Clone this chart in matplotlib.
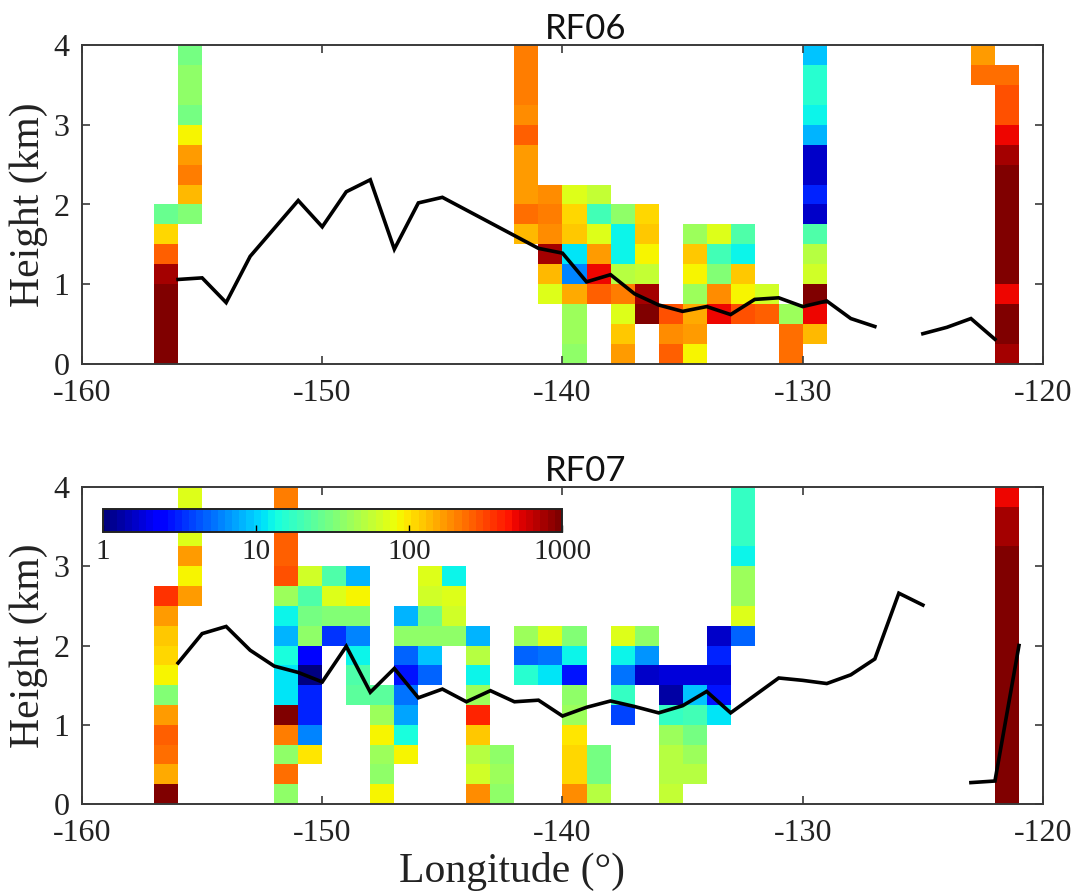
import numpy as np
import matplotlib
matplotlib.use("Agg")
import matplotlib.pyplot as plt
from matplotlib.colors import LogNorm

plt.rcParams["axes.unicode_minus"] = False

# ---------------- data ----------------
height_edges = np.arange(0, 4.001, 0.25)          # km, 16 bins
lon_edges = np.arange(-160, -119, 1)              # degrees, 40 bins

# RF06 columns: values (per 0.25 km bin) from the first filled bin upward
rf06_m157 = [1000, 1000, 1000, 920, 800, 250, 110, 26]            # start bin 0
rf06_m156 = [34, 135, 205, 165, 90, 29, 36, 36, 29]               # start bin 7
rf06_m142 = [135, 225, 165, 165, 165, 250, 185, 205, 205, 205]    # start bin 6
rf06_m141 = [74, 135, 800, 185, 205, 185]                         # start bin 3
rf06_m140 = [37, 43, 43, 150, 6.2, 10.8, 120, 110, 74]            # start bin 0
rf06_m139 = [250, 470, 165, 74, 19, 56]                           # start bin 3
rf06_m138 = [165, 120, 74, 205, 49, 12, 12, 37]                   # start bin 0
rf06_m137 = [1000, 750, 56, 84, 120, 110]                         # start bin 2
rf06_m136 = [250, 185, 280]                                       # start bin 0
rf06_m135 = [90, 165, 150, 43, 84, 120, 43]                       # start bin 0
rf06_m134 = [470, 185, 33, 19, 74]                                # start bin 2
rf06_m133 = [280, 84, 120, 12, 22]                                # start bin 2
rf06_m132 = [250, 65]                                             # start bin 2
rf06_m131 = [225, 225, 43]                                        # start bin 0
rf06_m130 = [135, 470, 1000, 65, 49, 22, 1.6, 3.0, 1.6, 1.6, 7.8, 12, 16, 16, 8.7]  # start 1
rf06_m123 = [225, 165]                                            # start bin 14
rf06_m122 = [750, 920, 920, 520, 1000, 1000, 1000, 1000, 1000, 1000,
             750, 520, 280, 280, 225]                             # start bin 0

rf06_columns = [(-157, 0, rf06_m157), (-156, 7, rf06_m156), (-142, 6, rf06_m142),
                (-141, 3, rf06_m141), (-140, 0, rf06_m140), (-139, 3, rf06_m139),
                (-138, 0, rf06_m138), (-137, 2, rf06_m137), (-136, 0, rf06_m136),
                (-135, 0, rf06_m135), (-134, 2, rf06_m134), (-133, 2, rf06_m133),
                (-132, 2, rf06_m132), (-131, 0, rf06_m131), (-130, 1, rf06_m130),
                (-123, 14, rf06_m123), (-122, 0, rf06_m122)]

# RF07 columns
rf07_m157 = [1000, 150, 225, 250, 165, 33, 90, 105, 120, 165, 340]   # start 0
rf07_m156 = [165, 84, 165, 74, 74, 74]                               # start 10
rf07_m152 = [37, 225, 37, 205, 1000, 10.8, 10.8, 14.7, 7.8, 12, 40,
             280, 250, 250, 205, 205]                                # start 0
rf07_m151 = [100, 6.2, 3.2, 3.2, 1.1, 2.6, 37, 29, 22, 65]           # start 2
rf07_m150 = [3.4, 33, 74, 22]                                        # start 8
rf07_m149 = [25, 22, 12, 6.2, 33, 84, 8.5]                           # start 5
rf07_m148 = [84, 37, 43, 84, 43, 25]                                 # start 0
rf07_m147 = [90, 14.7, 7.4, 5.1, 2.7, 4.6, 37, 7.8]                  # start 2
rf07_m146 = [4.6, 8.7, 37, 29, 65, 74]                               # start 6
rf07_m145 = [37, 65, 70, 12]                                         # start 8
rf07_m144 = [185, 65, 49, 120, 420, 43, 12, 49, 7.8]                 # start 0
rf07_m143 = [37, 43, 37]                                             # start 0
rf07_m142 = [15, 4.6, 40]                                            # start 6
rf07_m141 = [11, 5.1, 74]                                            # start 6
rf07_m140 = [185, 105, 110, 100, 43, 37, 2.9, 12, 33]                # start 0
rf07_m139 = [49, 29, 29]                                             # start 0
rf07_m138 = [4.0, 17, 5.1, 12, 74]                                   # start 4
rf07_m137 = [1.6, 6.5, 37]                                           # start 6
rf07_m136 = [56, 49, 49, 43, 17, 1.3, 1.9]                           # start 0
rf07_m135 = [49, 43, 29, 19, 8.7, 1.8]                               # start 1
rf07_m134 = [10.8, 2.9, 1.8, 3.2, 1.6]                               # start 4
rf07_m133 = [4.6, 74, 43, 43, 12, 17, 17, 17]                        # start 8
rf07_m122 = [1000] * 13 + [800, 750, 470]                            # start 0

rf07_columns = [(-157, 0, rf07_m157), (-156, 10, rf07_m156), (-152, 0, rf07_m152),
                (-151, 2, rf07_m151), (-150, 8, rf07_m150), (-149, 5, rf07_m149),
                (-148, 0, rf07_m148), (-147, 2, rf07_m147), (-146, 6, rf07_m146),
                (-145, 8, rf07_m145), (-144, 0, rf07_m144), (-143, 0, rf07_m143),
                (-142, 6, rf07_m142), (-141, 6, rf07_m141), (-140, 0, rf07_m140),
                (-139, 0, rf07_m139), (-138, 4, rf07_m138), (-137, 6, rf07_m137),
                (-136, 0, rf07_m136), (-135, 1, rf07_m135), (-134, 4, rf07_m134),
                (-133, 8, rf07_m133), (-122, 0, rf07_m122)]

# black lines (km)
rf06_line_lon = list(range(-156, -121))
rf06_line_h = [1.06, 1.08, 0.77, 1.35, 1.70, 2.05, 1.72, 2.16, 2.31, 1.44,
               2.02, 2.09, 1.93, 1.77, 1.61, 1.45, 1.39, 1.03, 1.12, 0.88,
               0.74, 0.66, 0.72, 0.62, 0.81, 0.83, 0.72, 0.79, 0.57, 0.47,
               np.nan, 0.38, 0.46, 0.57, 0.31]
rf07_line_lon = list(range(-156, -120))
rf07_line_h = [1.78, 2.15, 2.24, 1.94, 1.74, 1.66, 1.54, 1.99, 1.41, 1.71,
               1.34, 1.45, 1.29, 1.43, 1.29, 1.31, 1.11, 1.22, 1.30, 1.23,
               1.15, 1.24, 1.42, 1.15, 1.37, 1.59, 1.56, 1.52, 1.63, 1.83,
               2.66, 2.51, np.nan, 0.27, 0.29, 2.00]

titles = ["RF06", "RF07"]
cbar_ticks = [1, 10, 100, 1000]
cbar_ticklabels = ["1", "10", "100", "1000"]


def build_grid(columns):
    grid = np.full((len(height_edges) - 1, len(lon_edges) - 1), np.nan)
    for lon, start, vals in columns:
        j = int(lon - lon_edges[0])
        grid[start:start + len(vals), j] = vals
    return np.ma.masked_invalid(grid)


# ---------------- figure ----------------
W, H = 1078, 896
fig = plt.figure(figsize=(W / 100, H / 100), dpi=100)
cmap = plt.get_cmap("jet", 64)
norm = LogNorm(vmin=1, vmax=1000)

serif = "Liberation Serif"
spine_col = "#3a3a3a"
text_col = "#222222"
tick_fs = 23

ax_pos = [[82 / W, 1 - 364 / H, 961 / W, 319 / H],
          [82 / W, 1 - 804 / H, 961 / W, 317 / H]]

mesh = None
for k, (cols, llon, lh) in enumerate([(rf06_columns, rf06_line_lon, rf06_line_h),
                                      (rf07_columns, rf07_line_lon, rf07_line_h)]):
    ax = fig.add_axes(ax_pos[k])
    grid = build_grid(cols)
    mesh = ax.pcolormesh(lon_edges, height_edges, grid, cmap=cmap, norm=norm,
                         shading="flat", antialiased=False)
    ax.plot(llon, lh, color="k", lw=2.6, solid_joinstyle="miter")
    ax.set_xlim(-160, -120)
    ax.set_ylim(0, 4)
    ax.set_xticks([-160, -150, -140, -130, -120])
    ax.set_yticks([0, 1, 2, 3, 4])
    ax.tick_params(direction="in", length=6, width=1.2, top=True, right=True,
                   labelsize=tick_fs, colors=spine_col, labelcolor=text_col)
    ax.tick_params(axis="x", pad=11)
    ax.tick_params(axis="y", pad=9)
    for lab in ax.get_xticklabels() + ax.get_yticklabels():
        lab.set_family(serif)
    for s in ax.spines.values():
        s.set_color(spine_col)
        s.set_linewidth(1.4)
    ax.set_ylabel("Height (km)", family=serif, fontsize=30, color=text_col, labelpad=4)
    ax.set_title(titles[k], family="Lato", fontsize=25, pad=4, color="#111111",
                 x=(586 - 82) / 961)
    if k == 1:
        ax.set_xlabel("Longitude (°)", family=serif, fontsize=30, color=text_col)
        ax.xaxis.set_label_coords((512 - 82) / 961, (804 - 852) / 317)

cax = fig.add_axes([103 / W, 1 - 532 / H, 459 / W, 23 / H])
cb = fig.colorbar(mesh, cax=cax, orientation="horizontal")
cb.set_ticks(cbar_ticks)
cb.set_ticklabels(cbar_ticklabels)
cb.ax.minorticks_off()
cb.ax.tick_params(direction="in", length=5, width=1.0, labelsize=21,
                  labelcolor=text_col, pad=5)
for lab in cb.ax.get_xticklabels():
    lab.set_family(serif)
cb.outline.set_linewidth(1.4)
cb.outline.set_edgecolor(text_col)

fig.savefig("out.png", dpi=100)
